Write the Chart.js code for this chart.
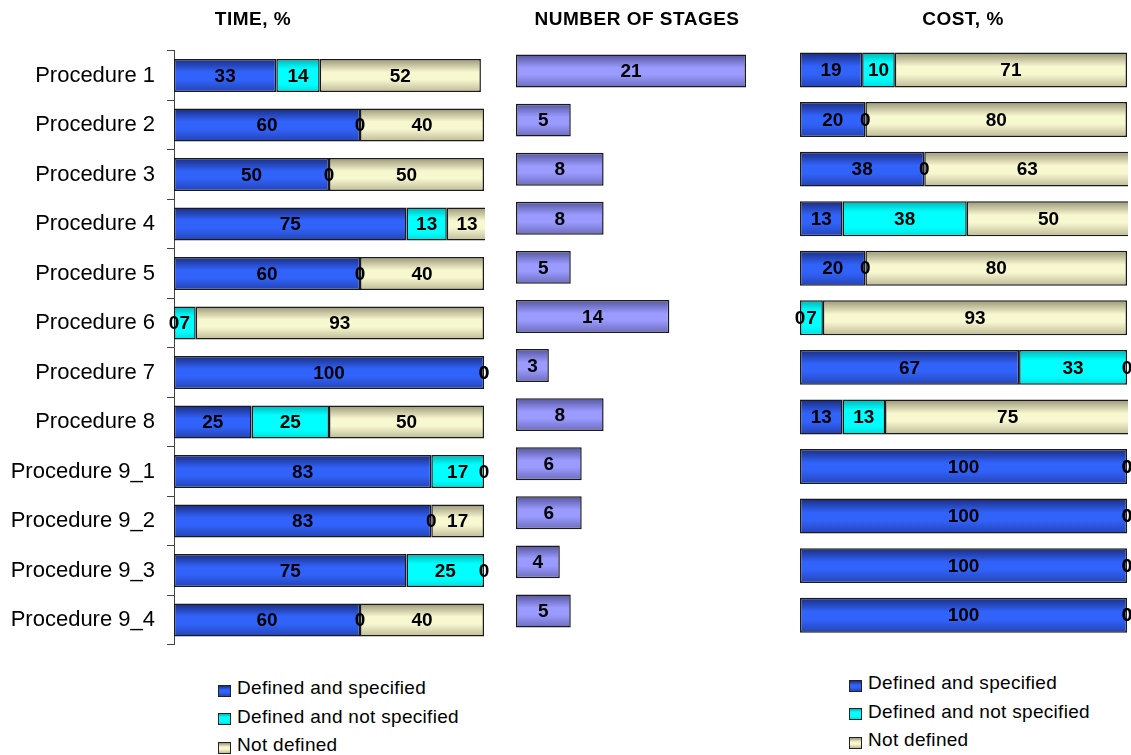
<!DOCTYPE html>
<html>
<head>
<meta charset="utf-8">
<script src="https://cdn.jsdelivr.net/npm/chart.js@4.4.1/dist/chart.umd.min.js"></script>
<style>
  html, body { margin: 0; padding: 0; background: #fff; width: 1131px; height: 755px; overflow: hidden; }
  canvas { position: absolute; top: 0; }
  #cTime { left: 0; }
  #cStages { left: 506px; }
  #cCost { left: 795px; }
  .legend { position: absolute; font: 19px "Liberation Sans", Arial, sans-serif; letter-spacing: 0.3px; color: #000; }
  .legend .row { height: 28.5px; display: flex; align-items: center; white-space: nowrap; }
  .legend .box { display: inline-block; width: 11px; height: 10px; border: 1px solid #222; margin: 5px 6px 0 0; }
  #legTime { left: 218px; top: 674px; }
  #legCost { left: 849px; top: 669px; }
</style>
</head>
<body>
<canvas id="cTime" width="506" height="660"></canvas>
<canvas id="cStages" width="262" height="660"></canvas>
<canvas id="cCost" width="336" height="660"></canvas>
<div class="legend" id="legTime"></div>
<div class="legend" id="legCost"></div>
<script>
const FONT = '"Liberation Sans", Arial, sans-serif';

const categories = ['Procedure 1', 'Procedure 2', 'Procedure 3', 'Procedure 4', 'Procedure 5', 'Procedure 6',
  'Procedure 7', 'Procedure 8', 'Procedure 9_1', 'Procedure 9_2', 'Procedure 9_3', 'Procedure 9_4'];
const seriesNames = ['Defined and specified', 'Defined and not specified', 'Not defined'];

// Time, %
const timeSpecified    = [33, 60, 50, 75, 60, 0, 100, 25, 83, 83, 75, 60];
const timeNotSpecified = [14, 0, 0, 13, 0, 7, 0, 25, 17, 0, 25, 0];
const timeNotDefined   = [52, 40, 50, 13, 40, 93, 0, 50, 0, 17, 0, 40];

// Number of stages
const stageCounts = [21, 5, 8, 8, 5, 14, 3, 8, 6, 6, 4, 5];

// Cost, %
const costSpecified    = [19, 20, 38, 13, 20, 0, 67, 13, 100, 100, 100, 100];
const costNotSpecified = [10, 0, 0, 38, 0, 7, 33, 13, 0, 0, 0, 0];
const costNotDefined   = [71, 80, 63, 50, 80, 93, 0, 75, 0, 0, 0, 0];

// Vertical shading of each bar: darker rims, light middle
const palettes = {
  blue:   { mid: '#3163fb', stops: [[0, '#1b2c7c'], [0.4, '#3163fb'], [0.62, '#3163fb'], [1, '#2443b4']] },
  cyan:   { mid: '#00ffff', stops: [[0, '#00b4b4'], [0.3, '#00ffff'], [0.75, '#00ffff'], [1, '#00dcdc']] },
  beige:  { mid: '#f7f7d0', stops: [[0, '#9a9676'], [0.4, '#f7f7d0'], [0.62, '#f7f7d0'], [1, '#bdbb96']] },
  violet: { mid: '#9a9aff', stops: [[0, '#55559c'], [0.4, '#9a9aff'], [0.62, '#9a9aff'], [1, '#6c6cbc']] }
};
const seriesPalettes = [palettes.blue, palettes.cyan, palettes.beige];

function barFill(pal, frac) {
  return (c) => {
    const chart = c.chart;
    const area = chart.chartArea;
    if (!area || c.type !== 'data') return pal.mid;
    const band = (area.bottom - area.top) / chart.data.labels.length;
    const th = band * frac;
    const yc = chart.scales.y.getPixelForValue(c.dataIndex);
    const g = chart.ctx.createLinearGradient(0, yc - th / 2, 0, yc + th / 2);
    pal.stops.forEach(([o, col]) => g.addColorStop(o, col));
    return g;
  };
}

function barSet(label, data, pal, frac) {
  return {
    label, data,
    backgroundColor: barFill(pal, frac),
    borderColor: '#1a1a1a',
    borderWidth: 1.5,
    borderSkipped: false,
    barPercentage: frac,
    categoryPercentage: 1,
    clip: { left: 3, right: 1, top: false, bottom: false }
  };
}

// Writes each bar's value in the middle of its segment
const valueLabels = {
  id: 'valueLabels',
  afterDatasetsDraw(chart) {
    const ctx = chart.ctx;
    ctx.save();
    ctx.font = 'bold 19px ' + FONT;
    ctx.fillStyle = '#000';
    ctx.textAlign = 'center';
    ctx.textBaseline = 'middle';
    chart.data.datasets.forEach((ds, di) => {
      chart.getDatasetMeta(di).data.forEach((bar, i) => {
        ctx.fillText(String(ds.data[i]), (bar.x + bar.base) / 2, bar.y + 1);
      });
    });
    ctx.restore();
  }
};

// Panel heading, centred across the whole canvas
const panelTitle = {
  id: 'panelTitle',
  afterDraw(chart, args, opts) {
    const ctx = chart.ctx;
    ctx.save();
    ctx.font = 'bold 19px ' + FONT;
    if ('letterSpacing' in ctx) ctx.letterSpacing = '0.5px';
    ctx.fillStyle = '#000';
    ctx.textAlign = 'center';
    ctx.textBaseline = 'middle';
    ctx.fillText(opts.text, chart.width / 2, 20);
    ctx.restore();
  }
};

const hiddenY = { stacked: true, display: false };

new Chart(document.getElementById('cTime'), {
  type: 'bar',
  data: {
    labels: categories,
    datasets: [
      barSet(seriesNames[0], timeSpecified, palettes.blue, 0.67),
      barSet(seriesNames[1], timeNotSpecified, palettes.cyan, 0.67),
      barSet(seriesNames[2], timeNotDefined, palettes.beige, 0.67)
    ]
  },
  options: {
    indexAxis: 'y', responsive: false, animation: false,
    layout: { padding: { left: 0, right: 22, top: 50.75, bottom: 15.25 } },
    scales: {
      x: { stacked: true, min: 0, max: 100, display: false },
      y: {
        stacked: true,
        grid: { drawOnChartArea: false, drawTicks: true, tickLength: 7, color: '#444', offset: true },
        border: { display: true, color: '#444', width: 1 },
        ticks: { color: '#000', padding: 12, autoSkip: false, font: { size: 22, family: FONT } },
        afterFit: (s) => { s.width = 174; s.paddingTop = 0; s.paddingBottom = 0; }
      }
    },
    plugins: { legend: { display: false }, tooltip: { enabled: false }, title: { display: false },
               panelTitle: { text: 'TIME, %' } }
  },
  plugins: [valueLabels, panelTitle]
});

new Chart(document.getElementById('cStages'), {
  type: 'bar',
  data: {
    labels: categories,
    datasets: [barSet('Number of stages', stageCounts, palettes.violet, 0.67)]
  },
  options: {
    indexAxis: 'y', responsive: false, animation: false,
    layout: { padding: { left: 10, right: 22, top: 46.5, bottom: 24.5 } },
    scales: {
      x: { min: 0, max: 21, display: false },
      y: hiddenY
    },
    plugins: { legend: { display: false }, tooltip: { enabled: false }, title: { display: false },
               panelTitle: { text: 'NUMBER OF STAGES' } }
  },
  plugins: [valueLabels, panelTitle]
});

new Chart(document.getElementById('cCost'), {
  type: 'bar',
  data: {
    labels: categories,
    datasets: [
      barSet(seriesNames[0], costSpecified, palettes.blue, 0.705),
      barSet(seriesNames[1], costNotSpecified, palettes.cyan, 0.705),
      barSet(seriesNames[2], costNotDefined, palettes.beige, 0.705)
    ]
  },
  options: {
    indexAxis: 'y', responsive: false, animation: false,
    layout: { padding: { left: 5, right: 4, top: 45.2, bottom: 20 } },
    scales: {
      x: { stacked: true, min: 0, max: 100, display: false },
      y: hiddenY
    },
    plugins: { legend: { display: false }, tooltip: { enabled: false }, title: { display: false },
               panelTitle: { text: 'COST, %' } }
  },
  plugins: [valueLabels, panelTitle]
});

// Series keys under the time and cost panels
function buildLegend(el) {
  seriesNames.forEach((name, i) => {
    const row = document.createElement('div');
    row.className = 'row';
    const box = document.createElement('span');
    box.className = 'box';
    const st = seriesPalettes[i].stops.map(([o, c]) => c + ' ' + Math.round(o * 100) + '%').join(', ');
    box.style.background = 'linear-gradient(to bottom, ' + st + ')';
    const txt = document.createElement('span');
    txt.textContent = name;
    row.appendChild(box);
    row.appendChild(txt);
    el.appendChild(row);
  });
}
buildLegend(document.getElementById('legTime'));
buildLegend(document.getElementById('legCost'));
</script>
</body>
</html>
